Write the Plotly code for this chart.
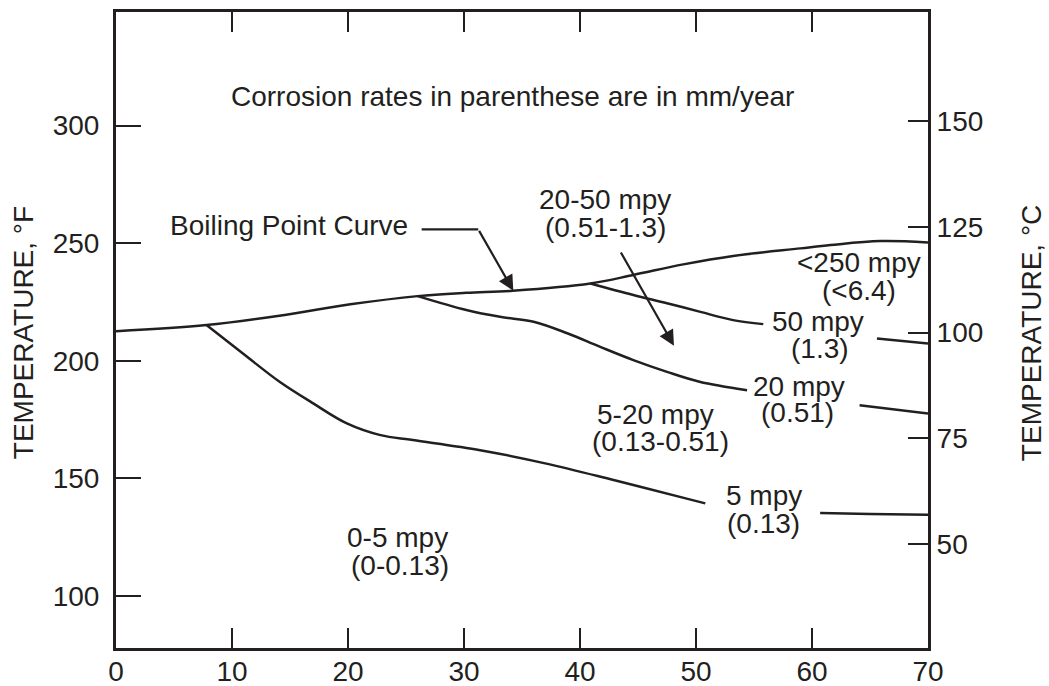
import plotly.graph_objects as go

FONT = "Liberation Sans, Arial, Helvetica, sans-serif"
INK = "#231f20"
FS = 28

# ---- data ----
x_ticks = [0, 10, 20, 30, 40, 50, 60, 70]
f_ticks = [100, 150, 200, 250, 300]
c_ticks = [50, 75, 100, 125, 150]
f_range = [77.9, 348.3]

x_boil = [0, 7.8, 14.4, 20.2, 26.0, 30.2, 34.2, 40.9, 44.6, 48.9, 53.2, 59.0, 61.6, 65.9, 70]
t_boil = [212.6, 215.2, 219.4, 224.0, 227.5, 228.9, 229.8, 232.9, 236.5, 241.0, 244.6, 247.8, 249.2, 250.9, 250.3]

x_5 = [7.8, 11.3, 14.1, 17.0, 19.9, 22.8, 25.6, 31.4, 37.1, 42.9, 49.2, 50.8, None, 60.7, 65.0, 70]
t_5 = [215.2, 201.7, 191.1, 181.9, 173.4, 168.4, 166.3, 162.0, 156.3, 149.3, 141.4, 139.4, None, 135.3, 134.9, 134.6]

x_20 = [26.0, 30.2, 33.1, 36.0, 38.9, 41.7, 44.6, 47.5, 50.3, 54.4, None, 64.1, 70]
t_20 = [227.5, 221.6, 218.7, 216.6, 211.7, 206.0, 200.3, 195.3, 191.1, 187.5, None, 181.1, 177.6]

x_50 = [40.9, 44.6, 47.5, 50.3, 53.2, 55.8, None, 65.6, 70]
t_50 = [232.9, 228.0, 224.5, 220.9, 217.3, 215.6, None, 209.5, 207.4]

label_text = ["Corrosion rates in parenthese are in mm/year",
              "20-50 mpy", "(0.51-1.3)",
              "<250 mpy", "(<6.4)",
              "50 mpy", "(1.3)",
              "20 mpy", "(0.51)",
              "5-20 mpy", "(0.13-0.51)",
              "5 mpy", "(0.13)",
              "0-5 mpy", "(0-0.13)"]
label_x = [34.14, 42.16, 42.16, 64.05, 64.05, 60.52, 60.69, 58.88, 58.71,
           46.47, 46.98, 55.86, 55.86, 24.3, 24.5]
label_t = [312.2, 268.6, 256.5, 241.6, 230.1, 216.6, 205.4, 188.9, 178.2,
           177.3, 165.8, 142.9, 130.9, 125.0, 113.1]

boil_label = "Boiling Point Curve"
boil_label_xy = (25.34, 257.5)
leader = [(26.35, 255.9), (31.23, 255.9)]          # horizontal leader
boil_arrow = [(31.23, 255.9), (34.25, 229.8)]      # tail -> head
zone_arrow = [(43.45, 246.7), (48.1, 206.4)]       # tail -> head


def f_to_c(f):
    return (f - 32) * 5 / 9


fig = go.Figure()
line_style = dict(color=INK, width=2.5, shape="spline", smoothing=1.0)
for xs, ts in [(x_boil, t_boil), (x_5, t_5), (x_20, t_20), (x_50, t_50)]:
    fig.add_trace(go.Scatter(x=xs, y=ts, mode="lines", line=line_style,
                             connectgaps=False, hoverinfo="skip", showlegend=False))

# invisible trace to activate the Celsius axis
fig.add_trace(go.Scatter(x=[0], y=[f_to_c(f_range[0])], yaxis="y2", mode="markers",
                         marker=dict(opacity=0), hoverinfo="skip", showlegend=False))

annotations = []
for t, x, y in zip(label_text, label_x, label_t):
    annotations.append(dict(text=t, x=x, y=y, xref="x", yref="y", showarrow=False,
                            xanchor="center", yanchor="middle",
                            font=dict(family=FONT, size=FS, color=INK)))
annotations.append(dict(text=boil_label, x=boil_label_xy[0], y=boil_label_xy[1],
                        xref="x", yref="y", showarrow=False, xanchor="right",
                        yanchor="middle", font=dict(family=FONT, size=FS, color=INK)))
for (tx, ty), (hx, hy) in [boil_arrow, zone_arrow]:
    annotations.append(dict(text="", x=hx, y=hy, ax=tx, ay=ty, xref="x", yref="y",
                            axref="x", ayref="y", showarrow=True, arrowhead=2,
                            arrowsize=1.4, arrowwidth=2.2, arrowcolor=INK))

annotations.append(dict(text="TEMPERATURE, °F", x=-0.1145, y=0.495, xref="paper",
                        yref="paper", showarrow=False, textangle=-90,
                        xanchor="center", yanchor="middle",
                        font=dict(family=FONT, size=FS, color=INK)))
annotations.append(dict(text="TEMPERATURE, °C", x=1.1268, y=0.495, xref="paper",
                        yref="paper", showarrow=False, textangle=-90,
                        xanchor="center", yanchor="middle",
                        font=dict(family=FONT, size=FS, color=INK)))

shapes = [dict(type="line", x0=leader[0][0], y0=leader[0][1], x1=leader[1][0],
               y1=leader[1][1], xref="x", yref="y", line=dict(color=INK, width=2.2))]

axis_common = dict(showgrid=False, zeroline=False, showline=True, linecolor=INK,
                   linewidth=3, ticks="inside", tickcolor=INK, tickwidth=1.5,
                   automargin=False,
                   tickfont=dict(family=FONT, size=FS, color=INK))

fig.update_layout(
    width=1049, height=686,
    margin=dict(l=116, r=121, t=12, b=38, pad=0),
    paper_bgcolor="white", plot_bgcolor="white",
    xaxis=dict(range=[0, 70], tickvals=x_ticks, ticklen=20, mirror="ticks",
               ticklabelstandoff=-4, **axis_common),
    yaxis=dict(range=f_range, tickvals=f_ticks, ticklen=25, ticklabelstandoff=8,
               **axis_common),
    yaxis2=dict(range=[f_to_c(v) for v in f_range], tickvals=c_ticks, ticklen=20,
                overlaying="y", side="right", **axis_common),
    annotations=annotations, shapes=shapes,
)

fig.write_html("out.html", config={"displayModeBar": False},
               post_script="document.body.style.margin='0';")
